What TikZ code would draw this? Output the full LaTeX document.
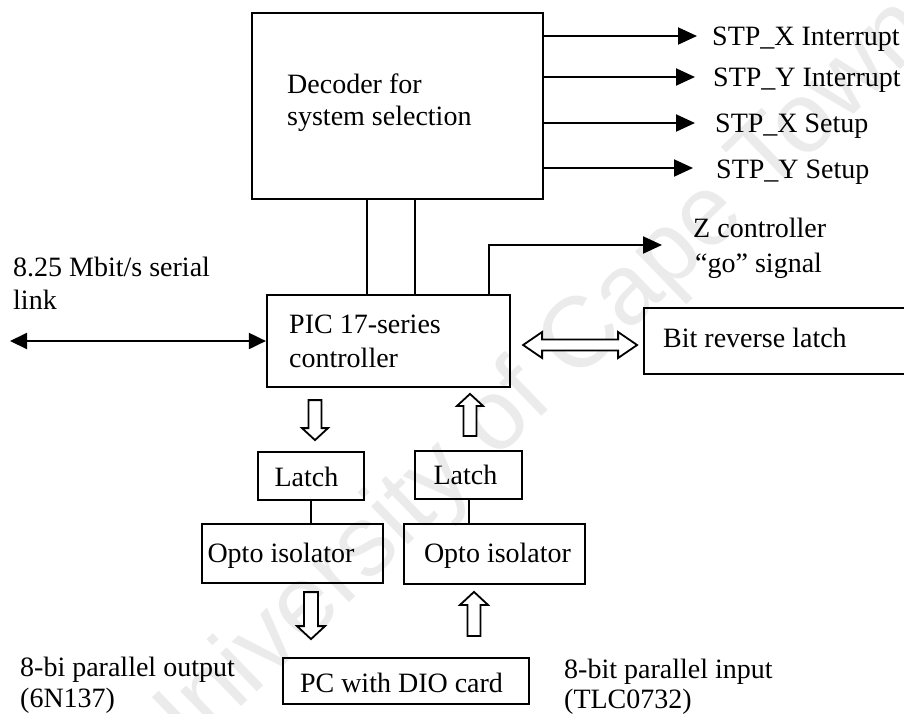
\documentclass[tikz,border=0pt]{standalone}
\usepackage{fontspec}
\setmainfont{Liberation Serif}
\newfontfamily\wmfont{Liberation Sans}
\usetikzlibrary{arrows.meta,calc}

\tikzset{
  box/.style={draw, line width=2.2pt, rectangle, inner sep=0pt},
  lbl/.style={inner sep=0pt, font=\fontsize{28}{33}\selectfont, anchor=base west},
  clbl/.style={lbl, anchor=base},
  wire/.style={line width=2pt},
  sig/.style={wire, -{Triangle[length=19pt,width=17pt]}},
  bisig/.style={wire, {Triangle[length=17pt,width=16pt]}-{Triangle[length=17pt,width=16pt]}},
  hollow/.style={draw, line width=1.8pt, fill=white, line join=miter},
  % single block arrow pointing along +x: length / shaft half width / head half width / head length
  pics/blockarrow/.style args={#1/#2/#3/#4}{code={%
    \path[hollow] (0,{-#2}) -- ({#1-#4},{-#2}) -- ({#1-#4},{-#3}) -- (#1,0)
      -- ({#1-#4},#3) -- ({#1-#4},#2) -- (0,#2) -- cycle;}},
  % double block arrow along +x
  pics/dblockarrow/.style args={#1/#2/#3/#4}{code={%
    \path[hollow] (0,0) -- (#4,{-#3}) -- (#4,{-#2}) -- ({#1-#4},{-#2}) -- ({#1-#4},{-#3})
      -- (#1,0) -- ({#1-#4},#3) -- ({#1-#4},#2) -- (#4,#2) -- (#4,#3) -- cycle;}},
}

\begin{document}
\begin{tikzpicture}[x=1pt,y=-1pt]
\useasboundingbox (0,0) rectangle (904,713);
\clip (0,0) rectangle (904,713);
\fill[white] (0,0) rectangle (904,713);

% watermark
\node[text=black!8, font=\wmfont\fontsize{100}{100}\selectfont, rotate=44, inner sep=0pt]
  (wm) at (530,392) {University of Cape Town};

% blocks
\node[box, minimum width=291pt, minimum height=186pt] (dec) at (397.5,106) {};
\node[box, minimum width=243pt, minimum height=92pt] (pic) at (388.5,341) {};
\node[box, minimum width=271pt, minimum height=66pt] (brl) at (779.5,341) {};
\node[box, minimum width=106pt, minimum height=48pt] (latchL) at (311,476) {};
\node[box, minimum width=107pt, minimum height=48pt] (latchR) at (468.5,475) {};
\node[box, minimum width=181pt, minimum height=59pt] (optoL) at (292.5,553.5) {};
\node[box, minimum width=181pt, minimum height=60pt] (optoR) at (494.5,554) {};
\node[box, minimum width=246pt, minimum height=46pt] (pc) at (406,681) {};

% block texts
\node[lbl] (dect1) at (287,93) {Decoder for};
\node[lbl] (dect2) at (287,125) {system selection};
\node[lbl] (pict1) at (289,333) {PIC 17-series};
\node[lbl] (pict2) at (289,367) {controller};
\node[lbl] (brlt) at (663,347) {Bit reverse latch};
\node[clbl] (latchLt) at (306.5,486) {Latch};
\node[clbl] (latchRt) at (465.5,484) {Latch};
\node[clbl] (optoLt) at (281,562) {Opto isolator};
\node[clbl] (optoRt) at (497.5,562) {Opto isolator};
\node[clbl] (pct) at (401.5,692) {PC with DIO card};

% decoder outputs
\coordinate (o1) at (697,36);
\coordinate (o2) at (695,77);
\coordinate (o3) at (695,123);
\coordinate (o4) at (693,168);
\draw[sig] (dec.east |- o1) -- (o1);
\draw[sig] (dec.east |- o2) -- (o2);
\draw[sig] (dec.east |- o3) -- (o3);
\draw[sig] (dec.east |- o4) -- (o4);
\node[lbl] (o1t) at (712,45) {STP\_X Interrupt};
\node[lbl] (o2t) at (713,86) {STP\_Y Interrupt};
\node[lbl] (o3t) at (715,132) {STP\_X Setup};
\node[lbl] (o4t) at (716,178) {STP\_Y Setup};

% decoder to controller
\coordinate (v1) at (367,0);
\coordinate (v2) at (415,0);
\draw[wire] (dec.south -| v1) -- (pic.north -| v1);
\draw[wire] (dec.south -| v2) -- (pic.north -| v2);

% Z controller go signal
\coordinate (zx) at (489,0);
\coordinate (zt) at (662,245);
\draw[sig] (pic.north -| zx) |- (zt);
\node[lbl] (zt1) at (693,237) {Z controller};
\node[lbl] (zt2) at (695,272) {“go” signal};

% serial link
\coordinate (sl) at (10,341);
\draw[bisig] (sl) -- (pic.west);
\node[lbl] (slt1) at (13,276) {8.25 Mbit/s serial};
\node[lbl] (slt2) at (13,309) {link};

% controller <-> bit reverse latch
\pic at ($(pic.east)+(12,4)$) {dblockarrow=114/5.5/13/19};

% parallel paths
\pic[rotate=-90] at ($(pic.south)+(-73.5,12)$) {blockarrow=40/6.5/13/12};
\pic[rotate=90] at ($(latchR.north)+(1.5,-14)$) {blockarrow=42/6.5/13/12};
\draw[wire] (latchL.south) -- (optoL.north -| latchL.south);
\draw[wire] (latchR.south) -- (optoR.north -| latchR.south);
\pic[rotate=-90] at ($(optoL.south)+(18.5,8)$) {blockarrow=47/7/14/13};
\pic[rotate=90] at ($(pc.north)+(68,-21)$) {blockarrow=44/6.5/14/13};

% PC side labels
\node[lbl] (pol1) at (20,676) {8-bi parallel output};
\node[lbl] (pol2) at (20,707) {(6N137)};
\node[lbl] (pil1) at (564,678) {8-bit parallel input};
\node[lbl] (pil2) at (564,708) {(TLC0732)};
\end{tikzpicture}
\end{document}
